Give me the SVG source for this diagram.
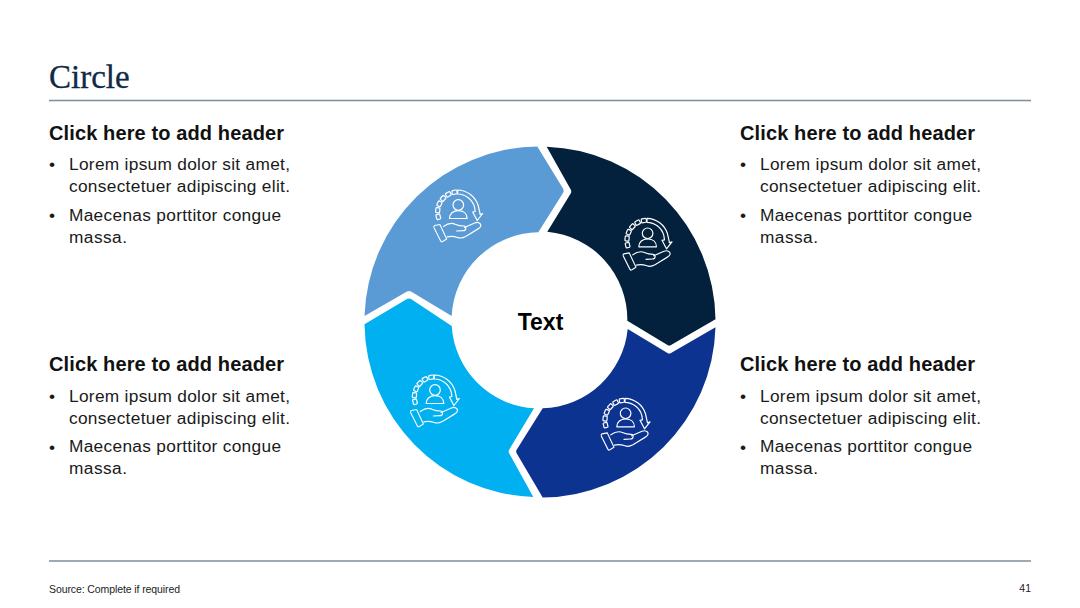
<svg xmlns="http://www.w3.org/2000/svg" xmlns:xlink="http://www.w3.org/1999/xlink" width="1080" height="608" viewBox="0 0 1080 608">
<style>
text{font-family:"Liberation Sans",Arial,sans-serif;fill:#111}
.h{font-size:20px;font-weight:700}
.b{font-size:17.3px;fill:#1a1a1a}
.rule{stroke:#7d8c9a;stroke-width:1.5;fill:none}
.ic{fill:none;stroke:#fff;stroke-width:1.2;stroke-linejoin:round;stroke-linecap:round}
</style>
<defs>
<rect id="d" x="-2.500" y="-22" width="5" height="4" rx=".8"/>
<g id="icon" class="ic">
<circle cx="38.300" cy="25" r="5.300"/>
<path d="M29.500 38.500c0-5 3.800-7.800 8.800-7.800s8.800 2.800 8.800 7.800z"/>
<g transform="translate(37.700 32)">
<use xlink:href="#d" href="#d" transform="rotate(-9)"/>
<use xlink:href="#d" href="#d" transform="rotate(-28)"/>
<use xlink:href="#d" href="#d" transform="rotate(-47)"/>
<use xlink:href="#d" href="#d" transform="rotate(-66)"/>
<use xlink:href="#d" href="#d" transform="rotate(-85)"/>
<use xlink:href="#d" href="#d" transform="rotate(-104)"/>
<path d="M0 -22A22 22 0 0 1 20.500 -6.500L22.500 2.500L25 1.500L19.500 8.500L15 0L17.500 -.5L16.800 -5A18 18 0 0 0 0 -18Z"/>
</g>
<g transform="translate(6.800 0) scale(.904 1)">
<path d="M14.500 44.500l7.500 14.500-4.500 2.500c-1 .5-1.800.2-2.300-.7L8 47.800c-.5-1-.2-1.800.7-2.300z"/>
<path d="M18.500 46.500c4.500-3 9-4 13.500-2 3 1.300 6 1.500 9 1.500 3 .2 3 4.500-.5 4.700l-7.500.3M41.500 47.500l11.500-4.500c4-1.500 8 .7 6.300 3.700-.5 1-1.500 1.600-3 2.400L43 56.500c-3 1.500-6 2-9 1-4-1.300-7.500-1.500-11.500-.7"/>
</g>
</g>
</defs>

<g id="title"><text x="49" y="88" style="font-family:'Liberation Serif',Georgia,serif;font-size:33px;fill:#0f2a47;stroke:#0f2a47;stroke-width:.3">Circle</text>
<line class="rule" x1="49" y1="100.500" x2="1031" y2="100.500"/></g>

<g id="block-top-left">
<text class="h" x="49" y="139.500" textLength="235" lengthAdjust="spacing">Click here to add header</text>
<text class="b" x="49" y="170">•</text><text class="b" x="69" y="170" textLength="221">Lorem ipsum dolor sit amet,</text>
<text class="b" x="69" y="192" textLength="221">consectetuer adipiscing elit.</text>
<text class="b" x="49" y="221">•</text><text class="b" x="69" y="220.500" textLength="212">Maecenas porttitor congue</text>
<text class="b" x="69" y="242.500" textLength="58">massa.</text>
</g>
<g id="block-top-right" transform="translate(691 0)">
<text class="h" x="49" y="139.500" textLength="235" lengthAdjust="spacing">Click here to add header</text>
<text class="b" x="49" y="170">•</text><text class="b" x="69" y="170" textLength="221">Lorem ipsum dolor sit amet,</text>
<text class="b" x="69" y="192" textLength="221">consectetuer adipiscing elit.</text>
<text class="b" x="49" y="221">•</text><text class="b" x="69" y="220.500" textLength="212">Maecenas porttitor congue</text>
<text class="b" x="69" y="242.500" textLength="58">massa.</text>
</g>
<g id="block-bottom-left" transform="translate(0 231.500)">
<text class="h" x="49" y="139.500" textLength="235" lengthAdjust="spacing">Click here to add header</text>
<text class="b" x="49" y="170">•</text><text class="b" x="69" y="170" textLength="221">Lorem ipsum dolor sit amet,</text>
<text class="b" x="69" y="192" textLength="221">consectetuer adipiscing elit.</text>
<text class="b" x="49" y="221">•</text><text class="b" x="69" y="220.500" textLength="212">Maecenas porttitor congue</text>
<text class="b" x="69" y="242.500" textLength="58">massa.</text>
</g>
<g id="block-bottom-right" transform="translate(691 231.500)">
<text class="h" x="49" y="139.500" textLength="235" lengthAdjust="spacing">Click here to add header</text>
<text class="b" x="49" y="170">•</text><text class="b" x="69" y="170" textLength="221">Lorem ipsum dolor sit amet,</text>
<text class="b" x="69" y="192" textLength="221">consectetuer adipiscing elit.</text>
<text class="b" x="49" y="221">•</text><text class="b" x="69" y="220.500" textLength="212">Maecenas porttitor congue</text>
<text class="b" x="69" y="242.500" textLength="58">massa.</text>
</g>

<g id="segment-navy">
<path fill="#03203c" d="M546.700 146.700A175 175 0 0 1 715.500 319.300L671 345Q669.300 346 667.500 345L627.300 320.700A88 88 0 0 0 547.300 231.700L571 193Q571.700 191 570.700 189.500Z"/>
<use xlink:href="#icon" href="#icon" transform="translate(609.300 208.300)"/>
</g>
<g id="segment-royal">
<path fill="#0d3390" d="M715.500 327.300A175 175 0 0 1 542.700 497.500L516.500 453Q515.700 451.700 516.500 450L542.700 408.300A88 88 0 0 0 627.700 329L667.500 353Q669.300 354 671 353Z"/>
<use xlink:href="#icon" href="#icon" transform="translate(587.300 388.300)"/>
</g>
<g id="segment-cyan">
<path fill="#00b0f0" d="M533.300 497A175 175 0 0 1 364.500 324.300L407 299Q409 298 411 299L451.700 326A88 88 0 0 0 534 408.300L509 450Q508.300 451.700 509 453Z"/>
<use xlink:href="#icon" href="#icon" transform="translate(396.700 365)"/>
</g>
<g id="segment-steel">
<path fill="#5b9bd5" d="M364.500 316A175 175 0 0 1 537.300 146.500L563.300 189Q564 191 563.300 192.500L538.300 232.300A88 88 0 0 0 451.700 316L411 291.500Q409 290.500 407 291.500Z"/>
<use xlink:href="#icon" href="#icon" transform="translate(420 180)"/>
</g>
<g id="center"><text x="540.500" y="329.500" text-anchor="middle" style="font-size:23px;font-weight:700;fill:#000">Text</text></g>

<g id="footer">
<line class="rule" x1="49" y1="561" x2="1031" y2="561"/>
<text x="49" y="593" style="font-size:10.500px;fill:#222" textLength="131">Source: Complete if required</text>
<text x="1031" y="592" text-anchor="end" style="font-size:10.500px;fill:#222">41</text>
</g>
</svg>
